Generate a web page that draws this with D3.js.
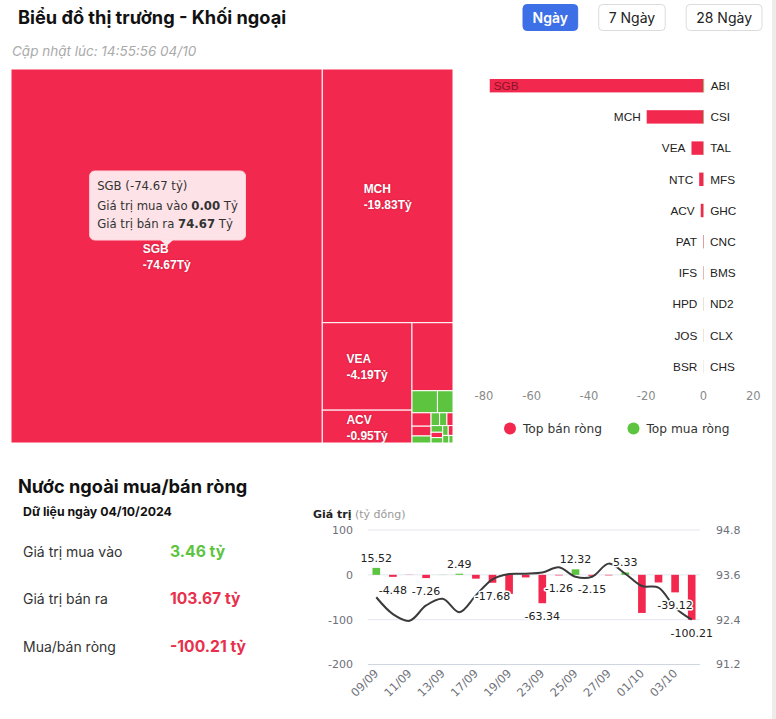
<!DOCTYPE html>
<html><head><meta charset="utf-8">
<script src="https://cdn.jsdelivr.net/npm/d3@7"></script>
<style>
body{margin:0;background:#fff;}
svg{display:block;}
</style></head>
<body>
<svg id="chart" width="776" height="719"></svg>
<script>
// ---------------- data ----------------
const stockNames = ["SGB","MCH","VEA","NTC","ACV","PAT","IFS","HPD","JOS","BSR","ABI","CSI","TAL","MFS","GHC","CNC","BMS","ND2","CLX","CHS"];
const stockBuy   = [0, 0.72, 0.42, 0.15, 0.47, 0, 0, 0, 0, 0, 0.30, 0.20, 0.086, 0.07, 0.06, 0.05, 0.04, 0.035, 0.03, 0.02];
const stockSell  = [74.67, 20.55, 4.61, 1.64, 1.42, 0.164, 0.12, 0.05, 0.04, 0.03, 0.06, 0.02, 0, 0, 0, 0, 0, 0, 0, 0];
const barTicks = [-80, -60, -40, -20, 0, 20];

const periodButtons = ["Ngày", "7 Ngày", "28 Ngày"];
const summaryLabels = ["Giá trị mua vào", "Giá trị bán ra", "Mua/bán ròng"];
const summaryValues = [3.46, 103.67, -100.21];

const dates = ["09/09","10/09","11/09","12/09","13/09","16/09","17/09","18/09","19/09","20/09","23/09","24/09","25/09","26/09","27/09","30/09","01/10","02/10","03/10","04/10"];
const netFlow = [15.52, -4.48, -0.35, -7.26, 0.3, 2.49, -8.5, -17.68, -42.5, -5.8, -63.34, -1.26, 12.32, -2.15, -1.2, 5.33, -85, -17, -39.12, -100.21];
const indexLine = [93.00, 92.55, 92.37, 92.78, 92.96, 92.60, 93.05, 93.48, 93.62, 93.63, 93.66, 93.80, 93.55, 93.55, 93.90, 93.63, 93.30, 93.26, 92.72, 92.40];
const labelledDates = ["09/09","10/09","12/09","16/09","18/09","23/09","24/09","25/09","26/09","30/09","03/10","04/10"];
const leftTicks = [100, 0, -100, -200];
const rightTicks = [94.8, 93.6, 92.4, 91.2];

// ---------------- setup ----------------
const RED = "#f2284e", GREEN = "#5cc43f";
const svg = d3.select("#chart");
svg.append("rect").attr("x", 772).attr("y", 0).attr("width", 4).attr("height", 719).attr("fill", "#ececec");

// header
svg.append("text").attr("x", 18).attr("y", 24)
  .attr("font-family", "Inter, Roboto, sans-serif").attr("font-weight", 700).attr("font-size", 18.2)
  .attr("fill", "#111").text("Biểu đồ thị trường - Khối ngoại");
svg.append("text").attr("x", 12).attr("y", 56)
  .attr("font-family", "Inter, Roboto, sans-serif").attr("font-style", "italic").attr("font-size", 13.5)
  .attr("fill", "#aaa").text("Cập nhật lúc: 14:55:56 04/10");

// buttons
{
  const g = svg.append("g");
  const tmp = g.append("text").attr("font-family", "Inter, Roboto, sans-serif").attr("font-size", 14);
  const widths = periodButtons.map(t => { tmp.text(t); return tmp.node().getComputedTextLength() + 20; });
  tmp.remove();
  let right = 762;
  const xs = [];
  for (let i = periodButtons.length - 1; i >= 0; i--) { xs[i] = right - widths[i]; right = xs[i] - 21; }
  periodButtons.forEach((t, i) => {
    const active = i === 0;
    g.append("rect").attr("x", xs[i]).attr("y", 4.5).attr("width", widths[i]).attr("height", 26)
      .attr("rx", 4).attr("fill", active ? "#3d6fe6" : "#fff").attr("stroke", active ? "#3d6fe6" : "#dcdcdc");
    g.append("text").attr("x", xs[i] + widths[i] / 2).attr("y", 22.5).attr("text-anchor", "middle")
      .attr("font-family", "Inter, Roboto, sans-serif").attr("font-size", 14)
      .attr("font-weight", active ? 600 : 400).attr("fill", active ? "#fff" : "#222").text(t);
  });
}

// ---------------- treemap ----------------
const stocks = stockNames.map((n, i) => ({ name: n, buy: stockBuy[i], sell: stockSell[i], net: stockBuy[i] - stockSell[i] }));
{
  const tmX = 11, tmY = 69, tmW = 442, tmH = 374;
  const root = d3.hierarchy({ children: stocks })
    .sum(d => d.children ? 0 : d.buy + d.sell)
    .sort((a, b) => b.value - a.value);
  d3.treemap().size([tmW, tmH]).tile(d3.treemapSquarify)(root);
  const g = svg.append("g").attr("transform", `translate(${tmX},${tmY})`);
  const leaves = root.leaves();
  g.selectAll("rect").data(leaves).join("rect")
    .attr("x", d => d.x0).attr("y", d => d.y0)
    .attr("width", d => d.x1 - d.x0).attr("height", d => d.y1 - d.y0)
    .attr("fill", d => d.data.net < 0 ? RED : GREEN)
    .attr("stroke", "#fff").attr("stroke-width", 1);
  leaves.filter(d => (d.x1 - d.x0) > 60 && (d.y1 - d.y0) > 30).forEach(d => {
    const cx = (d.x0 + d.x1) / 2, cy = (d.y0 + d.y1) / 2;
    const t = g.append("text").attr("font-family", "Liberation Sans, Arial, sans-serif").attr("font-size", 12)
      .attr("fill", "#fff").attr("font-weight", 700).style("text-shadow", "0 0 2px rgba(120,0,20,0.35)");
    const l1 = t.append("tspan").attr("y", cy - 3).text(d.data.name);
    const l2 = t.append("tspan").attr("y", cy + 13).text(d.data.net.toFixed(2) + "Tỷ");
    const w = Math.max(l1.node().getComputedTextLength(), l2.node().getComputedTextLength());
    l1.attr("x", cx - w / 2); l2.attr("x", cx - w / 2);
  });
  // tooltip on the largest cell
  const top = leaves[0];
  const cx = tmX + (top.x0 + top.x1) / 2, cy = tmY + (top.y0 + top.y1) / 2;
  const tipY = cy - 10, boxH = 69, boxB = tipY - 6, boxT = boxB - boxH;
  const tg = svg.append("g");
  const box = tg.append("rect").attr("fill", "#fde3e8").attr("rx", 5).attr("stroke", "#fbd3db");
  const tri = tg.append("path").attr("fill", "#fde3e8");
  const tt = tg.append("text").attr("font-family", "DejaVu Sans, Verdana, sans-serif").attr("font-size", 11.7).attr("fill", "#333");
  const bx = cx - 77;
  tt.append("tspan").attr("x", bx + 7.5).attr("y", boxT + 19).text(`${top.data.name} (${top.data.net.toFixed(2)} tỷ)`);
  const line2 = tt.append("tspan").attr("x", bx + 7.5).attr("y", boxT + 38.5);
  line2.append("tspan").text("Giá trị mua vào ");
  line2.append("tspan").attr("font-weight", 700).text(top.data.buy.toFixed(2));
  line2.append("tspan").text(" Tỷ");
  const line3 = tt.append("tspan").attr("x", bx + 7.5).attr("y", boxT + 57);
  line3.append("tspan").text("Giá trị bán ra ");
  line3.append("tspan").attr("font-weight", 700).text(top.data.sell.toFixed(2));
  line3.append("tspan").text(" Tỷ");
  const tw = tt.node().getBBox().width + 15;
  box.attr("x", bx).attr("y", boxT).attr("width", tw).attr("height", boxH);
  tri.attr("d", `M${cx - 7},${boxB - 0.5}L${cx + 7},${boxB - 0.5}L${cx},${tipY}Z`);
}

// ---------------- top buy/sell bars ----------------
{
  const sells = stocks.filter(d => d.net < 0).sort((a, b) => a.net - b.net).slice(0, 10);
  const buys = stocks.filter(d => d.net > 0).sort((a, b) => b.net - a.net).slice(0, 10);
  const x = d3.scaleLinear().domain([-80, 20]).range([474.5, 760.7]);
  const y = d3.scaleBand().domain(d3.range(10)).range([70.1, 382.1]).paddingInner(0.57).paddingOuter(0.285);
  const g = svg.append("g");
  const font = "Liberation Sans, Arial, sans-serif";
  sells.forEach((d, i) => {
    g.append("rect").attr("x", x(d.net)).attr("y", y(i)).attr("width", x(0) - x(d.net)).attr("height", y.bandwidth()).attr("fill", RED);
    const t = g.append("text").attr("y", y(i) + y.bandwidth() / 2).attr("dy", "0.36em")
      .attr("font-family", font).attr("font-size", 11.8).text(d.name);
    const tw = t.node().getComputedTextLength();
    if (x(d.net) - 6 - tw < x.range()[0]) t.attr("x", x(d.net) + 4).attr("fill", "#8a1427");
    else t.attr("x", x(d.net) - 6).attr("text-anchor", "end").attr("fill", "#222");
  });
  buys.forEach((d, i) => {
    g.append("rect").attr("x", x(0)).attr("y", y(i)).attr("width", x(d.net) - x(0)).attr("height", y.bandwidth()).attr("fill", GREEN);
    g.append("text").attr("x", x(d.net) + 6.5).attr("y", y(i) + y.bandwidth() / 2).attr("dy", "0.36em")
      .attr("font-family", font).attr("font-size", 11.8).attr("fill", "#222").text(d.name);
  });
  barTicks.forEach((v, i) => {
    const anchor = i === 0 ? "start" : (i === barTicks.length - 1 ? "end" : "middle");
    g.append("text").attr("x", x(v)).attr("y", 400).attr("text-anchor", anchor)
      .attr("font-family", "DejaVu Sans, Verdana, sans-serif").attr("font-size", 11.5).attr("fill", "#8a8a8a")
      .text(v < 0 ? "-" + Math.abs(v) : v);
  });
  // legend
  const leg = [["Top bán ròng", RED, 510], ["Top mua ròng", GREEN, 633.5]];
  leg.forEach(([t, c, lx]) => {
    g.append("circle").attr("cx", lx).attr("cy", 428.5).attr("r", 6).attr("fill", c);
    g.append("text").attr("x", lx + 13).attr("y", 432.5).attr("font-family", "DejaVu Sans, Verdana, sans-serif")
      .attr("font-size", 12.2).attr("fill", "#333").text(t);
  });
}

// ---------------- bottom-left summary ----------------
{
  const f = "Inter, Roboto, sans-serif";
  svg.append("text").attr("x", 18).attr("y", 493).attr("font-family", f).attr("font-weight", 700)
    .attr("font-size", 18.2).attr("fill", "#111").text("Nước ngoài mua/bán ròng");
  svg.append("text").attr("x", 23).attr("y", 516).attr("font-family", f).attr("font-weight", 700)
    .attr("font-size", 12.3).attr("fill", "#111").text("Dữ liệu ngày 04/10/2024");
  const rowY = [556.5, 603.5, 651.5];
  summaryLabels.forEach((t, i) => {
    svg.append("text").attr("x", 23).attr("y", rowY[i]).attr("font-family", f).attr("font-size", 14)
      .attr("fill", "#333").text(t);
    const v = summaryValues[i];
    svg.append("text").attr("x", 170).attr("y", rowY[i]).attr("font-family", f).attr("font-size", 15.7)
      .attr("font-weight", 700).attr("fill", i === 0 ? "#5cc43f" : "#e8304c").text(v.toFixed(2) + " tỷ");
  });
}

// ---------------- daily net flow chart ----------------
{
  const font = "DejaVu Sans, Verdana, sans-serif";
  const xb = d3.scaleBand().domain(dates).range([368, 700]).paddingInner(0.54).paddingOuter(0.27);
  const yL = d3.scaleLinear().domain([-200, 100]).range([664.5, 530]);
  const yR = d3.scaleLinear().domain([91.2, 94.8]).range([664.5, 530]);
  const g = svg.append("g");
  const t0 = g.append("text").attr("x", 313).attr("y", 518).attr("font-family", font).attr("font-size", 11).attr("fill", "#222");
  t0.append("tspan").attr("font-weight", 700).text("Giá trị");
  t0.append("tspan").attr("fill", "#999").text(" (tỷ đồng)");
  leftTicks.forEach(v => {
    g.append("line").attr("x1", 368).attr("x2", 700).attr("y1", yL(v)).attr("y2", yL(v))
      .attr("stroke", v === -200 ? "#cfd6df" : "#e3e7ee").attr("stroke-width", 1);
    g.append("text").attr("x", 353).attr("y", yL(v)).attr("dy", "0.35em").attr("text-anchor", "end")
      .attr("font-family", font).attr("font-size", 11).attr("fill", "#6e7079").text(v < 0 ? "-" + Math.abs(v) : v);
  });
  rightTicks.forEach(v => {
    g.append("text").attr("x", 716).attr("y", yR(v)).attr("dy", "0.35em")
      .attr("font-family", font).attr("font-size", 11).attr("fill", "#6e7079").text(v.toFixed(1));
  });
  g.selectAll("rect.bar").data(dates).join("rect").attr("class", "bar")
    .attr("x", d => xb(d)).attr("width", xb.bandwidth())
    .attr("y", (d, i) => Math.min(yL(netFlow[i]), yL(0)))
    .attr("height", (d, i) => Math.abs(yL(netFlow[i]) - yL(0)))
    .attr("fill", (d, i) => netFlow[i] < 0 ? RED : GREEN);
  const line = d3.line().x((d, i) => xb(dates[i]) + xb.bandwidth() / 2).y(d => yR(d)).curve(d3.curveCatmullRom.alpha(0.5));
  g.append("path").attr("d", line(indexLine)).attr("fill", "none").attr("stroke", "#3a3a3a").attr("stroke-width", 2);
  dates.forEach((d, i) => {
    if (!labelledDates.includes(d)) return;
    const v = netFlow[i];
    g.append("text").attr("x", xb(d) + xb.bandwidth() / 2).attr("y", v >= 0 ? yL(v) - 6 : yL(v) + 17)
      .attr("text-anchor", "middle").attr("font-family", font).attr("font-size", 11).attr("fill", "#222")
      .attr("stroke", "#fff").attr("stroke-width", 3).attr("paint-order", "stroke").attr("stroke-linejoin", "round")
      .text(v.toFixed(2));
  });
  dates.forEach((d, i) => {
    if (i % 2) return;
    const cx = xb(d) + xb.bandwidth() / 2 + 3;
    g.append("text").attr("transform", `translate(${cx},674) rotate(-45)`).attr("text-anchor", "end")
      .attr("font-family", font).attr("font-size", 11.5).attr("fill", "#6e7079").text(d);
  });
}
</script>
</body></html>
